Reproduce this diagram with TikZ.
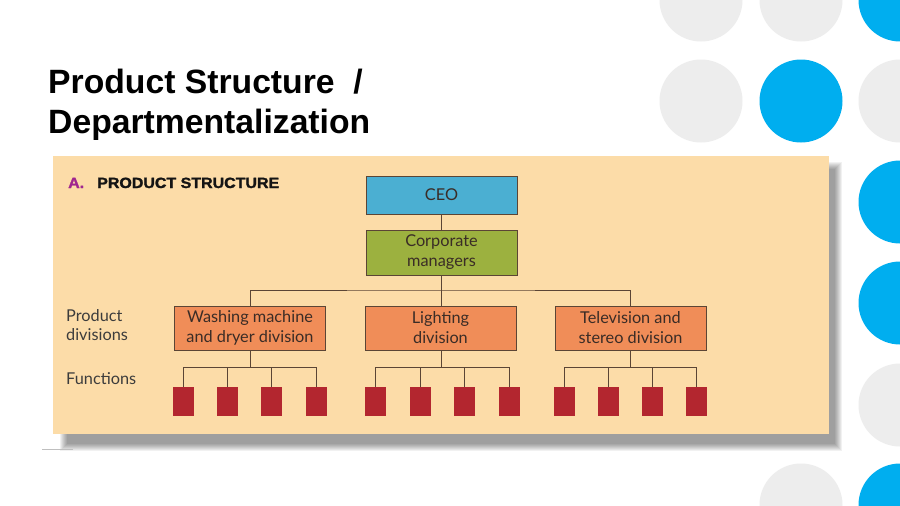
\documentclass[tikz,border=0pt]{standalone}
\usepackage{fontspec}
\setmainfont{Liberation Sans}
\newfontfamily\chartfont{Lato}
\newfontfamily\heavyfont[FakeBold=1.6]{Liberation Sans}
\definecolor{panel}{HTML}{FCDCA8}
\definecolor{ceoblue}{HTML}{4BAFD2}
\definecolor{corpgreen}{HTML}{9CB13F}
\definecolor{divorange}{HTML}{F08D58}
\definecolor{funcred}{HTML}{B3262F}
\definecolor{linecol}{HTML}{5B4535}
\definecolor{circgray}{HTML}{EDEDED}
\definecolor{circblue}{HTML}{00AEEF}
\definecolor{amag}{HTML}{A0268F}
\definecolor{labtext}{HTML}{3C3C3C}
\definecolor{boxtext}{HTML}{3A2C26}
\tikzset{
  x=1pt, y=-1pt,
  orgbox/.style={draw=linecol, line width=1pt, inner sep=0pt, align=center,
    text=boxtext, font=\chartfont\fontsize{16.3}{20}\selectfont},
  divbox/.style={orgbox, fill=divorange, minimum width=151pt, minimum height=44pt},
  funcbox/.style={fill=funcred, minimum width=21pt, minimum height=29pt, inner sep=0pt},
  conn/.style={draw=linecol, line width=1pt},
  sidelabel/.style={anchor=west, align=left, inner sep=0pt, text=labtext,
    font=\chartfont\fontsize{16.3}{19.5}\selectfont},
  headtext/.style={anchor=base west, inner sep=0pt, xscale=1.08, transform shape,
    font=\heavyfont\bfseries\fontsize{14.8}{17}\selectfont},
  gdot/.style={fill=circgray},
  bdot/.style={fill=circblue},
}
\begin{document}
\begin{tikzpicture}
\useasboundingbox (0,0) rectangle (900,506);
\fill[white] (0,0) rectangle (900,506);
% decorative circles
\fill[gdot] (701,0) circle (41.5);
\fill[gdot] (801,0) circle (41.5);
\fill[bdot] (900,0) circle (41.5);
\fill[gdot] (701,101) circle (41.5);
\fill[bdot] (801,101) circle (41.5);
\fill[gdot] (900,101) circle (41.5);
\fill[bdot] (900,202) circle (41.5);
\fill[bdot] (900,303) circle (41.5);
\fill[gdot] (900,405) circle (41.5);
\fill[gdot] (801,505) circle (41.5);
\fill[bdot] (900,505) circle (41.5);
% title
\node[anchor=base west, inner sep=0pt, font=\fontsize{33.7}{40}\selectfont\bfseries] (title1) at (48,93) {Product Structure\ \ /};
\node[anchor=base west, inner sep=0pt, font=\fontsize{33.7}{40}\selectfont\bfseries] (title2) at (48,133) {Departmentalization};
% panel shadow
\foreach \i in {0,...,7}
  \fill[black, opacity=0.055] (60+\i,162+\i) rectangle (842-\i,451-\i);
\fill[panel] (53,156) rectangle (829,434);
\draw[gray!50, line width=0.8pt] (42,449) -- (73,449);
% heading
\node[headtext, text=amag] (hA) at (68,188) {A.};
\node[headtext, text=black!92] (hB) at (97,188) {PRODUCT STRUCTURE};
% side labels
\node[sidelabel] (lprod) at (66,325) {Product\\divisions};
\node[sidelabel] (lfunc) at (66,378.5) {Functions};
% top boxes
\node[orgbox, fill=ceoblue, minimum width=151pt, minimum height=38pt] (ceo) at (441.5,195) {CEO};
\node[orgbox, fill=corpgreen, minimum width=151pt, minimum height=45pt] (corp) at (441.5,252.5) {Corporate\\managers};
% divisions
\node[divbox] (wash) at (250,328) {Washing machine\\and dryer division};
\node[divbox] (light) at (440.5,328) {Lighting\\division};
\node[divbox] (tv) at (630.5,328) {Television and\\stereo division};
% functions
\foreach \n/\x in {w1/183,w2/227.5,w3/271.5,w4/316,l1/375.5,l2/420,l3/464,l4/509,t1/564,t2/608.5,t3/652.5,t4/696.5}
  \node[funcbox] (\n) at (\x,401.5) {};
% connectors
\coordinate (bus) at (441.5,290);
\draw[conn] (ceo) -- (corp);
\draw[conn] (corp.south) -- (corp.south |- light.north);
\draw[conn] (wash.north) |- (bus) -| (tv.north);
\coordinate (wbus) at (250,367.5);
\coordinate (lbus) at (441.5,367.5);
\coordinate (tbus) at (630.5,367.5);
\draw[conn] (wash.south) -- (wbus);
\draw[conn] (w1.north) |- (wbus) -| (w4.north);
\draw[conn] (w2.north) -- (w2.north |- wbus);
\draw[conn] (w3.north) -- (w3.north |- wbus);
\draw[conn] (light.south -| lbus) -- (lbus);
\draw[conn] (l1.north) |- (lbus) -| (l4.north);
\draw[conn] (l2.north) -- (l2.north |- lbus);
\draw[conn] (l3.north) -- (l3.north |- lbus);
\draw[conn] (tv.south) -- (tbus);
\draw[conn] (t1.north) |- (tbus) -| (t4.north);
\draw[conn] (t2.north) -- (t2.north |- tbus);
\draw[conn] (t3.north) -- (t3.north |- tbus);
\end{tikzpicture}
\end{document}
